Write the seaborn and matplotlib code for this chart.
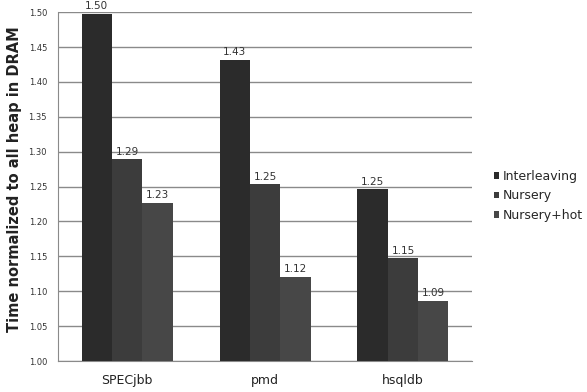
import matplotlib
matplotlib.use("Agg")
import matplotlib.pyplot as plt
import seaborn as sns
import pandas as pd
from matplotlib.ticker import MultipleLocator, FixedLocator

benchmarks = ["SPECjbb", "pmd", "hsqldb"]
series = ["Interleaving", "Nursery", "Nursery+hot"]
interleaving = [1.497, 1.432, 1.246]
nursery = [1.289, 1.253, 1.147]
nursery_hot = [1.227, 1.121, 1.086]
colors = ["#2b2b2b", "#3c3c3c", "#474747"]

rows = []
for s, vals in zip(series, [interleaving, nursery, nursery_hot]):
    for b, v in zip(benchmarks, vals):
        rows.append({"benchmark": b, "series": s, "value": v})
df = pd.DataFrame(rows)

sns.set_style("white")
plt.rcParams['font.family'] = ['DejaVu Sans']

fig = plt.figure(figsize=(5.87, 3.92), dpi=100)
ax = fig.add_axes([0.099, 0.079, 0.705, 0.89])

sns.barplot(data=df, x="benchmark", y="value", hue="series", order=benchmarks,
            hue_order=series, palette=colors, width=0.66, ax=ax,
            errorbar=None, saturation=1, linewidth=0, zorder=3)

ax.set_ylim(1.0, 1.5)
ax.set_xlim(-0.5, 2.5)
ax.yaxis.set_major_locator(MultipleLocator(0.05))
ax.set_yticklabels([f"{t:.2f}" for t in ax.get_yticks()])
ax.grid(axis="y", color="#8a8a8a", linewidth=1.0, zorder=0)
ax.set_axisbelow(True)

for c in ax.containers:
    ax.bar_label(c, labels=[f"{b.get_height():.2f}" for b in c], padding=2,
                 fontsize=7.5, color="#333333", clip_on=False)

for sp in ["top", "right"]:
    ax.spines[sp].set_visible(False)
ax.spines["left"].set_color("#8a8a8a")
ax.spines["bottom"].set_color("#8a8a8a")

ax.tick_params(axis="y", labelsize=6, labelcolor="#333333", length=3, color="#8a8a8a", pad=5)
ax.tick_params(axis="x", which="major", labelsize=9, length=0, pad=9, labelcolor="#222222")
ax.xaxis.set_minor_locator(FixedLocator([-0.5, 0.5, 1.5, 2.5]))
ax.tick_params(axis="x", which="minor", length=4, color="#8a8a8a")

ax.set_xlabel("")
ax.set_ylabel("")
fig.text(15 / 587, 1 - 179 / 392, "Time normalized to all heap in DRAM", rotation=90,
         fontsize=10.5, fontweight="bold", color="#222222", ha="center", va="center")

handles, labels = ax.get_legend_handles_labels()
ax.legend(handles, labels, loc="center left", bbox_to_anchor=(0.822, 0.5),
          bbox_transform=fig.transFigure, frameon=False, fontsize=9,
          handlelength=0.45, handleheight=0.45, handletextpad=0.3, labelspacing=0.5)

fig.savefig("out.png", dpi=100)
